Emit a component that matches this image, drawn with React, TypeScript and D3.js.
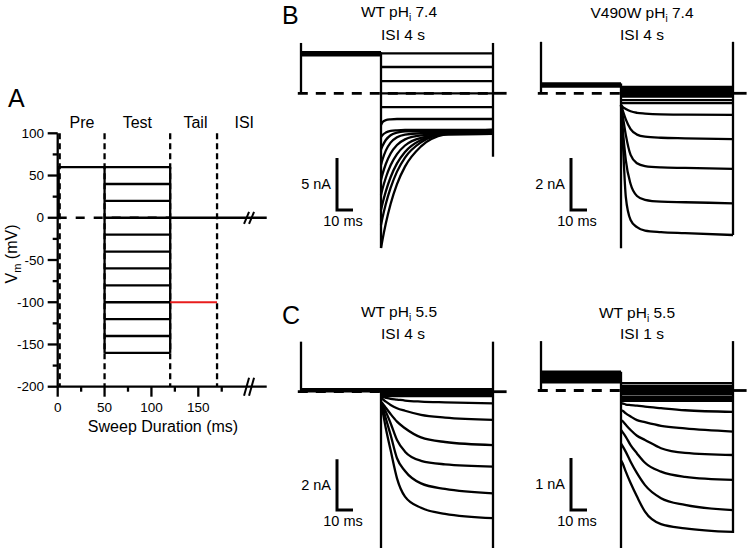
import React from "react";
import * as d3 from "d3";

const FONT = "'Liberation Sans', Arial, Helvetica, sans-serif";

// ---------- Panel A: voltage protocol ----------
const protoMajorX = [0, 50, 100, 150];
const protoMinorX = [25, 75, 125, 175];
const protoMajorY = [100, 50, 0, -50, -100, -150, -200];
const protoMinorY = [75, 25, -25, -75, -125, -175];
const phaseLabels = ["Pre", "Test", "Tail", "ISI"];
const phaseCenters = [26, 85, 147, 199];
const phaseBounds = [0, 50, 120, 170];
const preVoltage = 60;
const testVoltages = [60, 40, 20, 0, -20, -40, -60, -80, -100, -120, -140, -160];
const tailVoltage = -100;

// ---------- Panels B/C: current traces (nA), times in ms ----------
const testTimes = [0, 1, 3, 6, 10, 15, 25, 40, 70]; // ms after test start

const bLeftPre = [3.95, 3.8, 3.65];
const bLeftFlat = [3.83, 2.53, 1.18, 0, -1.32];
const bLeftCurves = [
  [-3.05, -2.76, -2.57, -2.5, -2.47, -2.47, -2.47, -2.47, -2.47],
  [-4.2, -4.01, -3.78, -3.62, -3.56, -3.53, -3.53, -3.53, -3.53],
  [-5.4, -5.05, -4.49, -4.03, -3.78, -3.67, -3.63, -3.63, -3.63],
  [-6.88, -6.34, -5.51, -4.74, -4.23, -3.97, -3.84, -3.82, -3.82],
  [-8.34, -7.75, -6.8, -5.79, -4.97, -4.43, -4.04, -3.92, -3.91],
  [-9.78, -9.16, -8.12, -6.92, -5.85, -5.02, -4.28, -3.98, -3.91],
  [-11.22, -10.57, -9.43, -8.07, -6.74, -5.64, -4.49, -3.91, -3.74],
  [-12.66, -11.93, -10.65, -9.1, -7.53, -6.18, -4.71, -3.9, -3.61],
  [-14.88, -14.03, -12.52, -10.64, -8.73, -7.05, -5.11, -3.96, -3.49],
];
const bLeftTransients = [4.84, -14.88, 4.84, -6.1];

const bRightPre = [0.38, 0.32, 0.26];
const bRightFlat = [0.25, 0.17, 0.09, 0.01, -0.07, -0.13, -0.26, -0.38];
const bRightCurves = [
  [-0.45, -0.52, -0.6, -0.69, -0.75, -0.78, -0.81, -0.82, -0.83],
  [-0.45, -0.64, -1.0, -1.38, -1.59, -1.67, -1.71, -1.73, -1.76],
  [-0.45, -0.83, -1.6, -2.37, -2.69, -2.8, -2.85, -2.87, -2.91],
  [-0.45, -1.28, -2.57, -3.49, -3.95, -4.1, -4.17, -4.19, -4.23],
  [-0.45, -1.67, -3.98, -4.87, -5.15, -5.28, -5.34, -5.38, -5.45],
];
const bRightTransients = [1.98, -5.96, 1.98, -5.45];

const cLeftPre = [0.1, 0.02];
const cLeftFlat = [0.1, 0.03, -0.04, -0.1, -0.17];
const cLeftCurves = [
  [-0.2, -0.21, -0.24, -0.28, -0.31, -0.35, -0.39, -0.42, -0.46],
  [-0.26, -0.3, -0.39, -0.52, -0.65, -0.75, -0.91, -1.02, -1.11],
  [-0.39, -0.46, -0.63, -0.88, -1.18, -1.44, -1.8, -1.98, -2.1],
  [-0.46, -0.55, -0.79, -1.24, -1.9, -2.36, -2.72, -2.86, -2.95],
  [-0.52, -0.63, -1.05, -1.7, -2.62, -3.12, -3.61, -3.83, -4.0],
  [-0.59, -0.79, -1.44, -2.3, -3.41, -4.13, -4.57, -4.81, -4.98],
];
const cLeftTransients = [1.97, -6.4, 1.97, -6.4];

const cRightPre = [0.36, 0.32, 0.28, 0.24, 0.2, 0.16];
const cRightFlat = [0.14, 0.09, 0.05, 0.01, -0.03, -0.07, -0.12, -0.16, -0.2];
const cRightCurves = [
  [-0.25, -0.25, -0.27, -0.28, -0.29, -0.31, -0.34, -0.38, -0.41],
  [-0.38, -0.39, -0.44, -0.5, -0.57, -0.61, -0.68, -0.73, -0.79],
  [-0.57, -0.59, -0.66, -0.76, -0.87, -0.95, -1.11, -1.2, -1.24],
  [-0.76, -0.8, -0.89, -1.05, -1.21, -1.39, -1.56, -1.66, -1.72],
  [-1.02, -1.07, -1.18, -1.37, -1.59, -1.82, -2.07, -2.2, -2.3],
  [-1.34, -1.4, -1.56, -1.78, -2.04, -2.33, -2.57, -2.65, -2.72],
];
const cRightTransients = [0.95, -3.2, 0.95, -2.74];

const panelTitles = ["WT pH|i| 7.4", "V490W pH|i| 7.4", "WT pH|i| 5.5", "WT pH|i| 5.5"];
const panelSubtitles = ["ISI 4 s", "ISI 4 s", "ISI 4 s", "ISI 1 s"];
const scaleNA = [5, 2, 2, 1];
const scaleMs = 10;

// layout
const panelGeom = [
  { x0: 301, y0: 93.3, k: 10.4, sbx: 337, sby: 210, tx: 399, ty1: 17, tx2: 403, ty2: 40 },
  { x0: 541, y0: 93.3, k: 26, sbx: 571, sby: 210, tx: 642, ty1: 17.5, tx2: 642, ty2: 40 },
  { x0: 301, y0: 391.7, k: 25.4, sbx: 337, sby: 510, tx: 399, ty1: 316.5, tx2: 403, ty2: 338.5 },
  { x0: 541, y0: 390.5, k: 52, sbx: 571, sby: 510, tx: 637, ty1: 318, tx2: 642, ty2: 338.5 },
];

const panelsData = [
  { pre: bLeftPre, flat: bLeftFlat, curves: bLeftCurves, tr: bLeftTransients },
  { pre: bRightPre, flat: bRightFlat, curves: bRightCurves, tr: bRightTransients },
  { pre: cLeftPre, flat: cLeftFlat, curves: cLeftCurves, tr: cLeftTransients },
  { pre: cRightPre, flat: cRightFlat, curves: cRightCurves, tr: cRightTransients },
];

const SW = 2.3;

function Title({ x, y, text }: { x: number; y: number; text: string }) {
  const parts = text.split("|");
  return (
    <text x={x} y={y} textAnchor="middle" fontSize={15.5} fontFamily={FONT}>
      {parts[0]}
      <tspan fontSize={10} dy={4}>{parts[1]}</tspan>
      <tspan dy={-4}>{parts[2]}</tspan>
    </text>
  );
}

function TracePanel({ idx }: { idx: number }) {
  const g = panelGeom[idx];
  const d = panelsData[idx];
  const x = d3.scaleLinear().domain([0, 120]).range([g.x0, g.x0 + 192]);
  const y = d3.scaleLinear().domain([0, 1]).range([g.y0, g.y0 - g.k]);
  const line = d3
    .line<[number, number]>()
    .x((p) => x(p[0]))
    .y((p) => y(p[1]))
    .curve(d3.curveMonotoneX);
  const [preTop, testBottom, tailTop, tailBottom] = d.tr;
  const preMax = d3.max(d.pre) as number;
  const sbH = y(0) - y(scaleNA[idx]);
  const sbW = x(scaleMs) - x(0);
  return (
    <g>
      {/* zero reference line */}
      <line x1={x(-2)} x2={x(120)} y1={y(0)} y2={y(0)} stroke="#000" strokeWidth={2.8} strokeDasharray="10,8" />
      <line x1={x(120)} x2={x(128.5)} y1={y(0)} y2={y(0)} stroke="#000" strokeWidth={2.8} />
      {/* pre-pulse traces */}
      {d.pre.map((v, i) => (
        <line key={"p" + i} x1={x(0)} x2={x(50)} y1={y(v)} y2={y(v)} stroke="#000" strokeWidth={2.5} />
      ))}
      {/* transients */}
      <line x1={x(0)} x2={x(0)} y1={y(0)} y2={y(preTop)} stroke="#000" strokeWidth={SW} />
      <line x1={x(50)} x2={x(50)} y1={y(preMax)} y2={y(testBottom)} stroke="#000" strokeWidth={SW} />
      <line x1={x(120)} x2={x(120)} y1={y(tailTop)} y2={y(tailBottom)} stroke="#000" strokeWidth={SW} />
      {/* flat test traces */}
      {d.flat.map((v, i) => (
        <line key={"f" + i} x1={x(50)} x2={x(120)} y1={y(v)} y2={y(v)} stroke="#000" strokeWidth={SW} />
      ))}
      {/* time-dependent test traces */}
      {d.curves.map((vals, i) => (
        <path
          key={"c" + i}
          d={line(testTimes.map((t, j) => [50 + t, vals[j]] as [number, number])) || ""}
          fill="none"
          stroke="#000"
          strokeWidth={SW}
        />
      ))}
      {/* scale bar */}
      <path
        d={`M${g.sbx},${g.sby - sbH} L${g.sbx},${g.sby} L${g.sbx + sbW},${g.sby}`}
        fill="none"
        stroke="#000"
        strokeWidth={3}
      />
      <text x={g.sbx - 6} y={g.sby - sbH / 2 + 5} textAnchor="end" fontSize={14.5} fontFamily={FONT}>
        {scaleNA[idx]} nA
      </text>
      <text x={g.sbx + 6} y={g.sby + 16} textAnchor="middle" fontSize={14.5} fontFamily={FONT}>
        {scaleMs} ms
      </text>
      <Title x={g.tx} y={g.ty1} text={panelTitles[idx]} />
      <text x={g.tx2} y={g.ty2} textAnchor="middle" fontSize={15.5} fontFamily={FONT}>
        {panelSubtitles[idx]}
      </text>
    </g>
  );
}

function ProtocolPanel() {
  const x = d3.scaleLinear().domain([0, 150]).range([57.7, 198.3]);
  const y = d3.scaleLinear().domain([-200, 100]).range([386.7, 133.3]);
  const axisEnd = 223;
  const breakAt = 202;
  const brk = (cx: number, cy: number, h: number) => (
    <g>
      {[0, 5].map((dx) => (
        <line key={dx} x1={cx - 3 + dx} y1={cy + h / 2} x2={cx + 2 + dx} y2={cy - h / 2} stroke="#000" strokeWidth={2} />
      ))}
    </g>
  );
  return (
    <g fontFamily={FONT}>
      <text x={8} y={106.5} fontSize={25}>A</text>
      {/* axes */}
      <line x1={x(0)} x2={x(0)} y1={y(100)} y2={y(-200)} stroke="#000" strokeWidth={SW} />
      <line x1={x(0)} x2={x(axisEnd)} y1={y(-200)} y2={y(-200)} stroke="#000" strokeWidth={SW} />
      {protoMajorY.map((v) => (
        <g key={"my" + v}>
          <line x1={x(0) - 10} x2={x(0)} y1={y(v)} y2={y(v)} stroke="#000" strokeWidth={SW} />
          <text x={44} y={y(v) + 4.5} textAnchor="end" fontSize={13.5}>{v}</text>
        </g>
      ))}
      {protoMinorY.map((v) => (
        <line key={"ny" + v} x1={x(0) - 5} x2={x(0)} y1={y(v)} y2={y(v)} stroke="#000" strokeWidth={SW} />
      ))}
      {protoMajorX.map((v) => (
        <g key={"mx" + v}>
          <line x1={x(v)} x2={x(v)} y1={y(-200)} y2={y(-200) + 10} stroke="#000" strokeWidth={SW} />
          <text x={x(v)} y={412} textAnchor="middle" fontSize={13.5}>{v}</text>
        </g>
      ))}
      {protoMinorX.map((v) => (
        <line key={"nx" + v} x1={x(v)} x2={x(v)} y1={y(-200)} y2={y(-200) + 5} stroke="#000" strokeWidth={SW} />
      ))}
      {brk(x(breakAt), y(-200), 18)}
      <text x={163} y={432} textAnchor="middle" fontSize={16}>Sweep Duration (ms)</text>
      <text transform="translate(17,254) rotate(-90)" textAnchor="middle" fontSize={16}>
        V<tspan fontSize={11} dy={4}>m</tspan>
        <tspan dy={-4}> (mV)</tspan>
      </text>
      {/* phase boundaries */}
      {phaseBounds.map((t) => (
        <line
          key={"b" + t}
          x1={x(t) + (t === 0 ? 2 : 0)}
          x2={x(t) + (t === 0 ? 2 : 0)}
          y1={y(100)}
          y2={y(-200)}
          stroke="#000"
          strokeWidth={SW}
          strokeDasharray="6,4"
        />
      ))}
      {phaseLabels.map((s, i) => (
        <text key={s} x={x(phaseCenters[i])} y={128} textAnchor="middle" fontSize={16}>{s}</text>
      ))}
      {/* zero level */}
      <line x1={x(0)} x2={x(120)} y1={y(0)} y2={y(0)} stroke="#000" strokeWidth={SW} strokeDasharray="9,9" />
      <line x1={x(120)} x2={x(axisEnd)} y1={y(0)} y2={y(0)} stroke="#000" strokeWidth={SW} />
      {brk(x(breakAt), y(0), 12)}
      {/* pre pulse */}
      <line x1={x(0) + 1} x2={x(0) + 1} y1={y(0)} y2={y(preVoltage)} stroke="#000" strokeWidth={SW} />
      <line x1={x(0)} x2={x(50)} y1={y(preVoltage)} y2={y(preVoltage)} stroke="#000" strokeWidth={SW} />
      {/* test steps */}
      {testVoltages.map((v) => (
        <line key={"t" + v} x1={x(50)} x2={x(120)} y1={y(v)} y2={y(v)} stroke="#000" strokeWidth={SW} />
      ))}
      {[50, 120].map((t) => (
        <line
          key={"v" + t}
          x1={x(t)}
          x2={x(t)}
          y1={y(d3.max(testVoltages) as number)}
          y2={y(d3.min(testVoltages) as number)}
          stroke="#000"
          strokeWidth={SW}
        />
      ))}
      {/* example tail */}
      <line x1={x(120)} x2={x(170)} y1={y(tailVoltage)} y2={y(tailVoltage)} stroke="#e81c1c" strokeWidth={2} />
    </g>
  );
}

export default function App() {
  if (typeof document !== "undefined") document.body.style.margin = "0";
  return (
    <svg
      width={747}
      height={548}
      viewBox="0 0 747 548"
      style={{ display: "block", position: "absolute", left: 0, top: 0, background: "#fff" }}
    >
      <rect width={747} height={548} fill="#fff" />
      <ProtocolPanel />
      <text x={282} y={24} fontSize={25} fontFamily={FONT}>B</text>
      <text x={282} y={324} fontSize={25} fontFamily={FONT}>C</text>
      {[0, 1, 2, 3].map((i) => (
        <TracePanel key={i} idx={i} />
      ))}
    </svg>
  );
}
